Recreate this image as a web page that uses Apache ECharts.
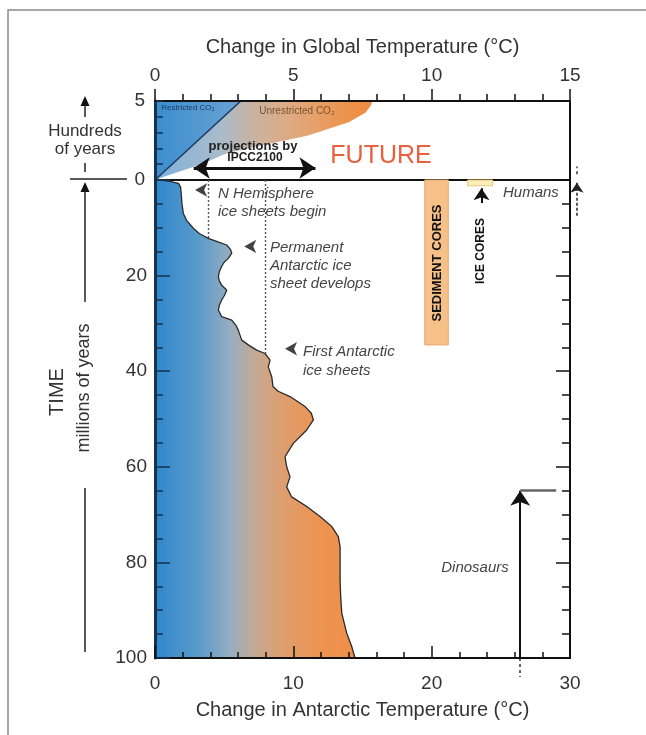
<!DOCTYPE html>
<html>
<head>
<meta charset="utf-8">
<script src="https://cdn.jsdelivr.net/npm/echarts@6/dist/echarts.min.js"></script>
<style>
  html, body { margin: 0; padding: 0; background: #fff; }
  #chart { width: 646px; height: 735px; }
</style>
</head>
<body>
<div id="chart"></div>
<script>
// Antarctic temperature change over the last 100 million years:
// the outline of the shaded region (age in Ma, temperature change in °C)
const ageMa = [0, 0.3, 0.7, 1.5, 3, 5, 7, 8.5, 10.1, 11.2, 12.2, 13, 13.6, 14.5, 15.3, 16.4, 17.2, 18.1, 19.2, 20.2,
  21.1, 22.0, 23.0, 24.0, 25.1, 26.2, 27.2, 28.6, 29.3, 30.4, 31.4, 33.5, 34.6, 35.6, 36.3, 37.7, 39.1, 41.2, 43.2, 44.2,
  45.3, 47.4, 48.8, 50.2, 52.3, 55.1, 57.9, 60.0, 62.1, 64.2, 66.3, 68.3, 70.4, 72.5, 74.6, 76.7, 80, 83.7, 87, 90.6,
  94.8, 97.6, 100];
const antarcticTemp = [0.4, 1.1, 1.7, 1.85, 1.9, 1.95, 2.05, 2.3, 2.77, 3.2, 3.85, 4.6, 5.18, 5.45, 5.55, 5.3, 5.0, 4.82, 4.65, 4.58,
  4.65, 4.82, 5.18, 5.05, 4.82, 4.65, 4.58, 4.82, 5.55, 5.85, 6.02, 6.27, 6.8, 7.35, 7.95, 8.32, 8.19, 8.44, 8.53, 8.9,
  9.76, 10.85, 11.3, 11.45, 10.97, 10.0, 9.4, 9.52, 9.76, 9.52, 9.88, 10.97, 11.93, 12.78, 13.25, 13.38, 13.38, 13.38, 13.42, 13.5,
  13.86, 14.22, 14.46];

// Future panel: global temperature change (°C) against hundreds of years
const restrictedEdgeTemp = [0, 3.1];
const restrictedEdgeTime = [0, 5];
const unrestrictedEdgeTemp = [0, 0.4, 1.6, 2.6, 4.0, 5.5, 7.0, 7.6, 7.8, 7.85];
const unrestrictedEdgeTime = [0, 0.25, 0.95, 1.7, 2.25, 2.8, 3.65, 4.25, 4.7, 5];
const ipccRange2100 = [1.4, 5.8];
const ipccArrowLevel = 0.76;

// Reference lines and records on the Antarctic scale
const iceSheetGuideTemp = [3.85, 7.95];
const iceSheetGuideAge = [12.2, 36.3];
const eventMarkerTemp = [2.9, 6.45, 9.4];
const eventMarkerAge = [2.1, 13.9, 35.3];
const sedimentCoreTemp = [19.5, 21.2];
const sedimentCoreAge = [0, 34.5];
const iceCoreTemp = [22.6, 24.4];
const iceCoreAge = [0, 1.2];
const iceCoreArrowTemp = 23.6;
const iceCoreArrowAge = [4.8, 1.7];
const dinosaurTemp = [26.4, 29.0];
const dinosaurAge = [100, 65];
const humansTemp = 30.5;
const humansAge = [7.5, 0.6];

const globalRange = [0, 15];
const antarcticRange = [0, 30];
const futureRange = [0, 5];
const ageRange = [0, 100];

const FONT = '"Liberation Sans", Arial, Helvetica, sans-serif';
const TEXT = '#333';
const NAVY = '#17324f';

const zip = (a, b) => a.map((v, i) => [v, b[i]]);

const antarcticStops = [
  { offset: 0, color: '#2f87cb' },
  { offset: 0.22, color: '#5a9bcb' },
  { offset: 0.38, color: '#98adbf' },
  { offset: 0.5, color: '#c4a994' },
  { offset: 0.62, color: '#dc9f72' },
  { offset: 0.78, color: '#eb9556' },
  { offset: 1, color: '#f08f47' }
];
const futureStops = [
  { offset: 0, color: '#7eb0db' },
  { offset: 0.3, color: '#a9bccc' },
  { offset: 0.45, color: '#c8b3a2' },
  { offset: 0.62, color: '#dfaa83' },
  { offset: 0.82, color: '#eb9858' },
  { offset: 1, color: '#ef8a3b' }
];

function renderAntarcticFill(params, api) {
  if (params.dataIndex !== 0) return;
  const pts = [api.coord([0, ageMa[0]])];
  for (let i = 0; i < ageMa.length; i++) pts.push(api.coord([antarcticTemp[i], ageMa[i]]));
  pts.push(api.coord([0, ageMa[ageMa.length - 1]]));
  const a = api.coord([0, 0]), b = api.coord([14.5, 0]);
  return {
    type: 'polygon', shape: { points: pts },
    style: { fill: new echarts.graphic.LinearGradient(a[0], 0, b[0], 0, antarcticStops, true) }
  };
}

function renderFutureFill(params, api) {
  if (params.dataIndex !== 0) return;
  const pts = [];
  for (let i = 0; i < unrestrictedEdgeTemp.length; i++) pts.push(api.coord([unrestrictedEdgeTemp[i], unrestrictedEdgeTime[i]]));
  pts.push(api.coord([0, futureRange[1]]));
  const a = api.coord([0, 0]), b = api.coord([unrestrictedEdgeTemp[unrestrictedEdgeTemp.length - 1], 0]);
  return {
    type: 'polygon', shape: { points: pts },
    style: { fill: new echarts.graphic.LinearGradient(a[0], 0, b[0], 0, futureStops, true) }
  };
}

function renderRestrictedFill(params, api) {
  if (params.dataIndex !== 0) return;
  const pts = [
    api.coord([restrictedEdgeTemp[0], restrictedEdgeTime[0]]),
    api.coord([restrictedEdgeTemp[1], restrictedEdgeTime[1]]),
    api.coord([0, futureRange[1]])
  ];
  const a = api.coord([0, 0]), b = api.coord([restrictedEdgeTemp[1], 0]);
  return {
    type: 'polygon', shape: { points: pts },
    style: {
      fill: new echarts.graphic.LinearGradient(a[0], 0, b[0], 0,
        [{ offset: 0, color: '#3c8dcf' }, { offset: 1, color: '#6aa3d2' }], true)
    }
  };
}

function renderBox(temps, ages, fill, stroke) {
  return function (params, api) {
    if (params.dataIndex !== 0) return;
    const p0 = api.coord([temps[0], ages[0]]);
    const p1 = api.coord([temps[1], ages[1]]);
    return {
      type: 'rect',
      shape: { x: p0[0], y: p0[1], width: p1[0] - p0[0], height: p1[1] - p0[1] },
      style: { fill: fill, stroke: stroke, lineWidth: 1 }
    };
  };
}

const chart = echarts.init(document.getElementById('chart'), null, { renderer: 'canvas' });

const axisLabelStyle = { fontFamily: FONT, fontSize: 19, color: TEXT };
const nameStyle = { fontFamily: FONT, fontSize: 20, color: TEXT };

function txt(text, x, y, opts) {
  return {
    type: 'text', x: x, y: y, z: 100,
    style: Object.assign({
      text: text, fill: '#444', font: 'italic 15px ' + FONT, align: 'left', verticalAlign: 'middle'
    }, opts || {})
  };
}
function seg(points, width, color) {
  return { type: 'polyline', z: 100, shape: { points: points }, style: { stroke: color || '#222', lineWidth: width || 1.5, fill: null } };
}
function head(x, y) {
  return { type: 'polygon', z: 100, shape: { points: [[x, y], [x - 4.5, y + 10], [x + 4.5, y + 10]] }, style: { fill: '#111' } };
}

const option = {
  animation: false,
  backgroundColor: '#fff',
  grid: [
    { left: 155, right: 76, top: 101, height: 79, show: true, borderColor: '#111', borderWidth: 2, backgroundColor: 'transparent' },
    { left: 155, right: 76, top: 180, height: 478, show: true, borderColor: '#111', borderWidth: 2, backgroundColor: 'transparent' }
  ],
  xAxis: [
    {
      gridIndex: 0, type: 'value', position: 'top', min: globalRange[0], max: globalRange[1], interval: 5, z: 5,
      axisLine: { show: true, onZero: false, lineStyle: { color: '#111', width: 2 } },
      axisTick: { show: true, length: 12, lineStyle: { color: '#111', width: 1.5 } },
      minorTick: { show: true, splitNumber: 5, length: 7, lineStyle: { color: '#111', width: 1.5 } },
      axisLabel: Object.assign({ margin: 16 }, axisLabelStyle),
      splitLine: { show: false }, minorSplitLine: { show: false },
      name: 'Change in Global Temperature (°C)', nameLocation: 'middle', nameGap: 44, nameTextStyle: nameStyle
    },
    {
      gridIndex: 1, type: 'value', position: 'bottom', min: antarcticRange[0], max: antarcticRange[1], interval: 10, z: 5,
      axisLine: { show: true, onZero: false, lineStyle: { color: '#111', width: 2 } },
      axisTick: { show: true, inside: true, length: 12, lineStyle: { color: '#111', width: 1.5 } },
      minorTick: { show: true, splitNumber: 5, length: 6, lineStyle: { color: '#111', width: 1.5 } },
      axisLabel: Object.assign({ margin: 16 }, axisLabelStyle),
      splitLine: { show: false }, minorSplitLine: { show: false },
      name: 'Change in Antarctic Temperature (°C)', nameLocation: 'middle', nameGap: 42, nameTextStyle: nameStyle
    }
  ],
  yAxis: [
    {
      gridIndex: 0, type: 'value', position: 'left', min: futureRange[0], max: futureRange[1], interval: 5, z: 5,
      axisLine: { show: true, onZero: false, lineStyle: { color: NAVY, width: 3 } },
      axisTick: { show: true, inside: true, length: 8, lineStyle: { color: NAVY, width: 1.5 } },
      minorTick: { show: true, splitNumber: 5, length: 8, lineStyle: { color: NAVY, width: 1.5 } },
      axisLabel: Object.assign({ margin: 10 }, axisLabelStyle),
      splitLine: { show: false }, minorSplitLine: { show: false }
    },
    {
      gridIndex: 1, type: 'value', position: 'left', inverse: true, min: ageRange[0], max: ageRange[1], interval: 20, z: 5,
      axisLine: { show: true, onZero: false, lineStyle: { color: NAVY, width: 3 } },
      axisTick: { show: true, inside: true, length: 15, lineStyle: { color: NAVY, width: 1.5 } },
      minorTick: { show: true, splitNumber: 4, length: 8, lineStyle: { color: NAVY, width: 1.5 } },
      axisLabel: Object.assign({ margin: 8, showMinLabel: false }, axisLabelStyle),
      splitLine: { show: false }, minorSplitLine: { show: false }
    },
    {
      gridIndex: 1, type: 'value', position: 'right', inverse: true, min: ageRange[0], max: ageRange[1], interval: 20, z: 5,
      axisLine: { show: true, onZero: false, lineStyle: { color: '#111', width: 2 } },
      axisTick: { show: true, inside: true, length: 14, lineStyle: { color: '#111', width: 1.5 } },
      minorTick: { show: true, splitNumber: 4, length: 8, lineStyle: { color: '#111', width: 1.5 } },
      axisLabel: { show: false },
      splitLine: { show: false }, minorSplitLine: { show: false }
    }
  ],
  series: [
    // future panel
    { type: 'custom', xAxisIndex: 0, yAxisIndex: 0, renderItem: renderFutureFill, data: [[0, 0]], z: 1, silent: true },
    { type: 'custom', xAxisIndex: 0, yAxisIndex: 0, renderItem: renderRestrictedFill, data: [[0, 0]], z: 1, silent: true },
    {
      type: 'line', xAxisIndex: 0, yAxisIndex: 0, data: zip(restrictedEdgeTemp, restrictedEdgeTime),
      showSymbol: false, lineStyle: { color: '#1e3a60', width: 1.6 }, z: 3, silent: true
    },
    {
      type: 'lines', coordinateSystem: 'cartesian2d', xAxisIndex: 0, yAxisIndex: 0, clip: false, z: 4,
      symbol: ['arrow', 'arrow'], symbolSize: 16,
      lineStyle: { color: '#111', width: 3, opacity: 1 },
      data: [{ coords: [[ipccRange2100[0], ipccArrowLevel], [ipccRange2100[1], ipccArrowLevel]] }]
    },
    // Antarctic history
    { type: 'custom', xAxisIndex: 1, yAxisIndex: 1, renderItem: renderAntarcticFill, data: [[0, 0]], z: 1, silent: true },
    {
      type: 'line', xAxisIndex: 1, yAxisIndex: 1, data: zip(antarcticTemp, ageMa),
      showSymbol: false, lineStyle: { color: '#2a2a2a', width: 1.3 }, z: 3, silent: true
    },
    {
      type: 'lines', coordinateSystem: 'cartesian2d', xAxisIndex: 1, yAxisIndex: 1, z: 3,
      lineStyle: { color: '#555', width: 1.4, type: [2, 2], opacity: 1 },
      data: iceSheetGuideTemp.map((t, i) => ({ coords: [[t, 0], [t, iceSheetGuideAge[i]]] }))
    },
    {
      type: 'scatter', xAxisIndex: 1, yAxisIndex: 1, symbol: 'arrow', symbolRotate: 90, symbolSize: [10, 12],
      itemStyle: { color: '#111' }, data: zip(eventMarkerTemp, eventMarkerAge), z: 4, silent: true
    },
    { type: 'custom', xAxisIndex: 1, yAxisIndex: 1, renderItem: renderBox(sedimentCoreTemp, sedimentCoreAge, '#f6c089', '#e6aa70'), data: [[0, 0]], z: 2, silent: true },
    { type: 'custom', xAxisIndex: 1, yAxisIndex: 1, renderItem: renderBox(iceCoreTemp, iceCoreAge, '#fbecb8', '#e9c77a'), data: [[0, 0]], z: 2, silent: true },
    {
      type: 'lines', coordinateSystem: 'cartesian2d', xAxisIndex: 1, yAxisIndex: 1, clip: false, z: 4,
      symbol: ['none', 'arrow'], symbolSize: 12,
      lineStyle: { color: '#111', width: 2, opacity: 1 },
      data: [
        { coords: [[iceCoreArrowTemp, iceCoreArrowAge[0]], [iceCoreArrowTemp, iceCoreArrowAge[1]]] },
        { coords: [[dinosaurTemp[0], dinosaurAge[0]], [dinosaurTemp[0], dinosaurAge[1]]], symbolSize: 15 }
      ]
    },
    {
      type: 'lines', coordinateSystem: 'cartesian2d', xAxisIndex: 1, yAxisIndex: 1, clip: false, z: 4,
      lineStyle: { color: '#666', width: 2.5, opacity: 1 },
      data: [{ coords: [[dinosaurTemp[0], dinosaurAge[1]], [dinosaurTemp[1], dinosaurAge[1]]] }]
    },
    {
      type: 'lines', coordinateSystem: 'cartesian2d', xAxisIndex: 1, yAxisIndex: 1, clip: false, z: 4,
      lineStyle: { color: '#333', width: 1.5, type: [3, 3], opacity: 1 },
      data: [
        { coords: [[dinosaurTemp[0], dinosaurAge[0]], [dinosaurTemp[0], dinosaurAge[0] + 4]] },
        { coords: [[humansTemp, -1.2], [humansTemp, -2.8]] }
      ]
    },
    {
      type: 'lines', coordinateSystem: 'cartesian2d', xAxisIndex: 1, yAxisIndex: 1, clip: false, z: 4,
      symbol: ['none', 'arrow'], symbolSize: 10,
      lineStyle: { color: '#222', width: 1.5, type: [3, 2], opacity: 1 },
      data: [{ coords: [[humansTemp, humansAge[0]], [humansTemp, humansAge[1]]] }]
    }
  ],
  graphic: [
    // page frame
    { type: 'polyline', z: 100, shape: { points: [[8, 735], [8, 10], [646, 10]] }, style: { stroke: '#8a8a8a', lineWidth: 1.5, fill: null } },
    // left-hand time scale annotations
    head(85, 96), seg([[85, 104], [85, 117]]),
    txt('Hundreds', 85, 131, { font: '17px ' + FONT, fill: TEXT, align: 'center' }),
    txt('of years', 85, 149, { font: '17px ' + FONT, fill: TEXT, align: 'center' }),
    seg([[85, 163], [85, 172]]),
    seg([[70, 179], [127, 179]]),
    head(85, 182), seg([[85, 190], [85, 302]]),
    { type: 'text', x: 57, y: 392, rotation: Math.PI / 2, z: 100, style: { text: 'TIME', font: '20px ' + FONT, fill: TEXT, align: 'center', verticalAlign: 'middle' } },
    { type: 'text', x: 84, y: 388, rotation: Math.PI / 2, z: 100, style: { text: 'millions of years', font: '18px ' + FONT, fill: TEXT, align: 'center', verticalAlign: 'middle' } },
    seg([[85, 488], [85, 652]]),
    // future panel labels
    txt('Restricted CO₂', 188, 108, { font: '8px ' + FONT, fill: '#1d3b63', align: 'center' }),
    txt('Unrestricted CO₂', 297, 111, { font: '10px ' + FONT, fill: '#7a5232', align: 'center' }),
    txt('projections by', 253, 146, { font: 'bold 13px ' + FONT, fill: '#222', align: 'center' }),
    txt('IPCC2100', 255, 158, { font: 'bold 12px ' + FONT, fill: '#222', align: 'center' }),
    txt('FUTURE', 381, 156, { font: '25px ' + FONT, fill: '#e8603c', align: 'center' }),
    // event notes
    txt('N Hemisphere', 218, 194),
    txt('ice sheets begin', 218, 212),
    txt('Permanent', 270, 248),
    txt('Antarctic ice', 270, 266),
    txt('sheet develops', 270, 284),
    txt('First Antarctic', 303, 352),
    txt('ice sheets', 303, 371),
    txt('Dinosaurs', 475, 568, { align: 'center' }),
    txt('Humans', 503, 193),
    { type: 'text', x: 437, y: 263, rotation: Math.PI / 2, z: 100, style: { text: 'SEDIMENT CORES', font: 'bold 13px ' + FONT, fill: '#111', align: 'center', verticalAlign: 'middle' } },
    { type: 'text', x: 481, y: 251, rotation: Math.PI / 2, z: 100, style: { text: 'ICE CORES', font: 'bold 12px ' + FONT, fill: '#111', align: 'center', verticalAlign: 'middle' } }
  ]
};

chart.setOption(option);
</script>
</body>
</html>
